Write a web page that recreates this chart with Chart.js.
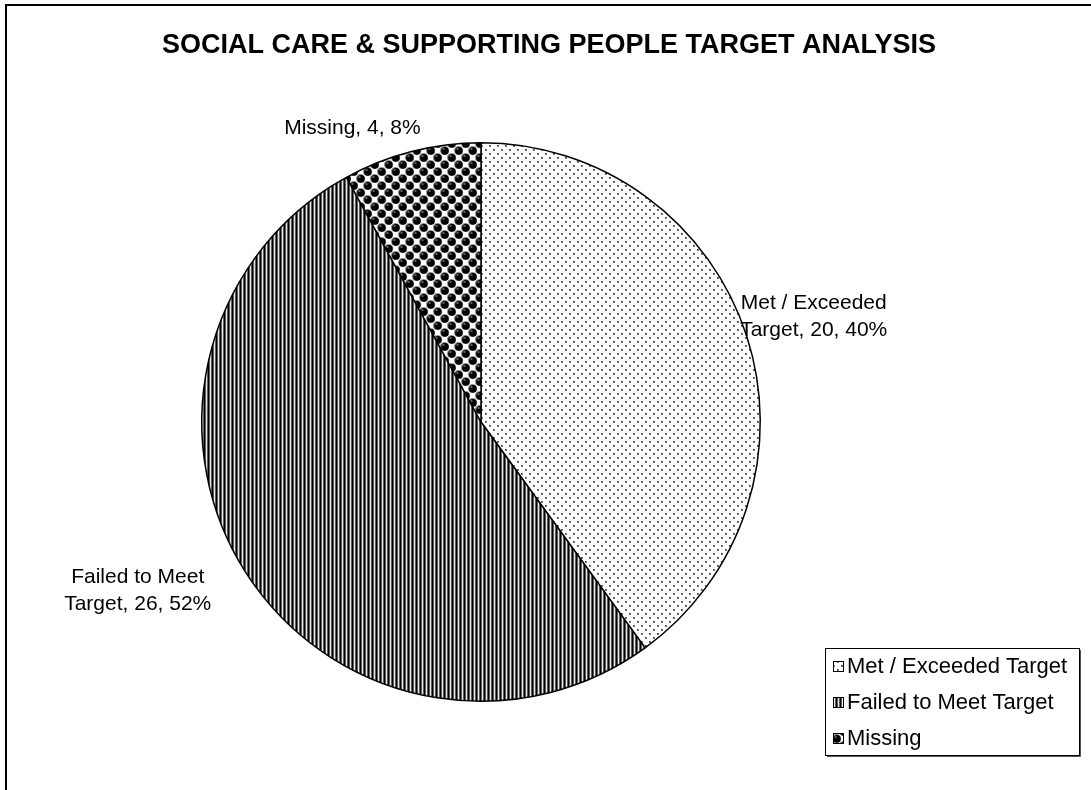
<!DOCTYPE html>
<html>
<head>
<meta charset="utf-8">
<title>Social Care &amp; Supporting People Target Analysis</title>
<script src="https://cdn.jsdelivr.net/npm/chart.js@4.4.1/dist/chart.umd.min.js"></script>
<style>
    html, body { margin: 0; padding: 0; background: #fff; overflow: hidden; }
    #wrap { position: relative; width: 1091px; height: 790px; }
    #frame { position: absolute; left: 5px; top: 4px; width: 1120px; height: 820px;
             border-left: 2px solid #000; border-top: 2px solid #000; }
    #targetChart { position: absolute; left: 0; top: 0; }
</style>
</head>
<body>
<div id="wrap">
    <div id="frame"></div>
    <canvas id="targetChart" width="1091" height="790"></canvas>
</div>
<script>
// target outcome counts
const categories = ['Met / Exceeded Target', 'Failed to Meet Target', 'Missing'];
const counts = [20, 26, 4];

// where each data label sits: angle clockwise from 12 o'clock, distance as a multiple of the radius
const labelAngles = [72.4, 243.8, 336.4];
const labelDistance = [1.25, 1.37, 1.15];

const FONT = "'Liberation Sans', Arial, sans-serif";

// --- fill patterns (black & white print style) ---
function makeTile(w, h, paint) {
    const c = document.createElement('canvas');
    c.width = w;
    c.height = h;
    const g = c.getContext('2d');
    g.fillStyle = '#fff';
    g.fillRect(0, 0, w, h);
    paint(g);
    return g.createPattern(c, 'repeat');
}

const dotFill = makeTile(8, 8, function (g) {
    g.fillStyle = '#7a7a7a';
    g.fillRect(1, 1, 2, 2);
    g.fillRect(5, 5, 2, 2);
    g.fillStyle = '#333';
    g.fillRect(1, 1, 1, 1);
    g.fillRect(5, 5, 1, 1);
});

const stripeFill = makeTile(4, 4, function (g) {
    const cols = ['#000', '#5e5e5e', '#e8e8e8', '#5e5e5e'];
    cols.forEach(function (col, i) {
        g.fillStyle = col;
        g.fillRect(i, 0, 1, 4);
    });
});

// shaded balls on a staggered grid
function ball(g, x, y) {
    g.fillStyle = '#8c8c8c';
    g.beginPath();
    g.arc(x, y, 4.6, 0, Math.PI * 2);
    g.fill();
    g.fillStyle = '#000';
    g.beginPath();
    g.arc(x + 0.4, y + 0.4, 3.8, 0, Math.PI * 2);
    g.fill();
    g.fillStyle = '#bdbdbd';
    g.fillRect(x - 2, y - 2, 2, 1);
}

const sphereFill = makeTile(14, 14, function (g) {
    const pts = [[3.5, 3.5], [10.5, 10.5]];
    pts.forEach(function (p) {
        [-14, 0, 14].forEach(function (dx) {
            [-14, 0, 14].forEach(function (dy) {
                ball(g, p[0] + dx, p[1] + dy);
            });
        });
    });
});

const fills = [dotFill, stripeFill, sphereFill];
const total = counts.reduce(function (a, b) { return a + b; }, 0);

// wrap text on word boundaries to a max width
function wrapText(ctx, text, maxWidth) {
    const words = text.split(' ');
    const lines = [];
    let line = '';
    words.forEach(function (w) {
        const test = line ? line + ' ' + w : w;
        if (ctx.measureText(test).width > maxWidth && line) {
            lines.push(line);
            line = w;
        } else {
            line = test;
        }
    });
    if (line) lines.push(line);
    return lines;
}

const pageDecor = {
    id: 'pageDecor',
    afterDraw: function (chart) {
        const ctx = chart.ctx;
        ctx.save();

        // title
        ctx.fillStyle = '#000';
        ctx.font = 'bold 27px ' + FONT;
        ctx.textAlign = 'center';
        ctx.textBaseline = 'alphabetic';
        ctx.fillText('SOCIAL CARE & SUPPORTING PEOPLE TARGET ANALYSIS', 549, 53);

        // slice labels: name, value, percent
        const meta = chart.getDatasetMeta(0);
        ctx.font = '21px ' + FONT;
        ctx.textBaseline = 'middle';
        meta.data.forEach(function (arc, i) {
            const ang = labelAngles[i] * Math.PI / 180;
            const r = arc.outerRadius * labelDistance[i];
            const cx = arc.x + Math.sin(ang) * r;
            const cy = arc.y - Math.cos(ang) * r;
            const pct = Math.round(counts[i] / total * 100);
            const text = categories[i] + ', ' + counts[i] + ', ' + pct + '%';
            const lines = (categories[i] === 'Missing') ? [text] : wrapText(ctx, text, 170);
            const lh = 27;
            const y0 = cy - (lines.length - 1) * lh / 2;
            lines.forEach(function (ln, k) {
                ctx.fillText(ln, cx, y0 + k * lh);
            });
        });

        // legend box
        const lx = 825, ly = 648, lw = 254, lhgt = 107;
        ctx.fillStyle = '#fff';
        ctx.fillRect(lx, ly, lw, lhgt);
        ctx.strokeStyle = '#555';
        ctx.lineWidth = 1;
        ctx.beginPath();
        ctx.moveTo(lx + lw + 1.5, ly + 2);
        ctx.lineTo(lx + lw + 1.5, ly + lhgt + 1.5);
        ctx.lineTo(lx + 2, ly + lhgt + 1.5);
        ctx.stroke();
        ctx.strokeStyle = '#000';
        ctx.strokeRect(lx + 0.5, ly + 0.5, lw, lhgt);

        ctx.font = '22px ' + FONT;
        ctx.textAlign = 'left';
        ctx.textBaseline = 'middle';
        categories.forEach(function (name, i) {
            const y = 666 + i * 36;
            ctx.fillStyle = fills[i];
            ctx.fillRect(833, y - 5, 11, 11);
            ctx.strokeStyle = '#000';
            ctx.lineWidth = 1;
            ctx.strokeRect(833.5, y - 4.5, 10, 10);
            ctx.fillStyle = '#000';
            ctx.fillText(name, 847, y + 1);
        });

        ctx.restore();
    }
};

new Chart(document.getElementById('targetChart').getContext('2d'), {
    type: 'pie',
    data: {
        labels: categories,
        datasets: [{
            data: counts,
            backgroundColor: fills,
            borderColor: '#000',
            borderWidth: 1.5
        }]
    },
    options: {
        responsive: false,
        animation: false,
        events: [],
        layout: {
            padding: { left: 201, right: 330, top: 142, bottom: 88 }
        },
        plugins: {
            legend: { display: false },
            title: { display: false },
            tooltip: { enabled: false }
        }
    },
    plugins: [pageDecor]
});
</script>
</body>
</html>
